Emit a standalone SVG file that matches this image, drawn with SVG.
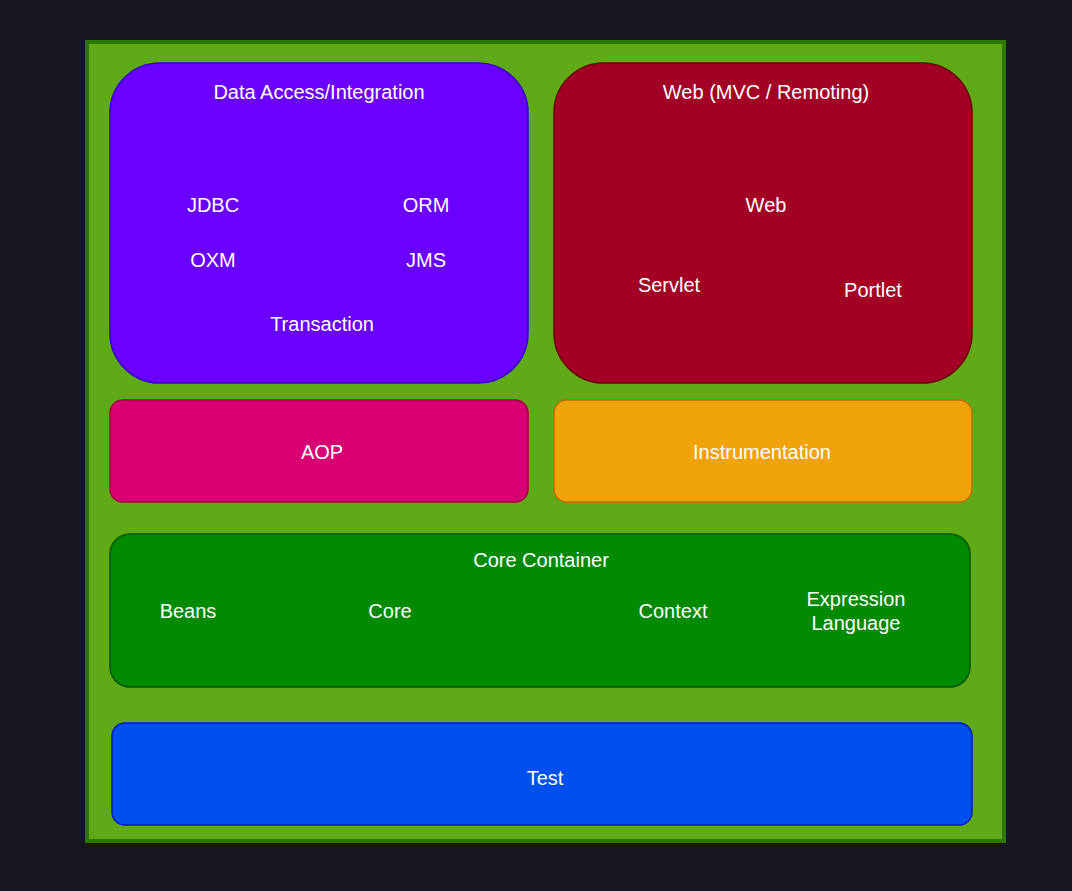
<svg xmlns="http://www.w3.org/2000/svg" width="1072" height="891" viewBox="0 0 1072 891">
<style>
text{font-family:"Liberation Sans",Arial,sans-serif;font-size:20px;fill:#ffffff;text-anchor:middle}
</style>
<rect x="0" y="0" width="1072" height="891" fill="#18161f"/>
<g id="frame"><rect x="87" y="42" width="917" height="799" fill="#60a917" stroke="#2d7600" stroke-width="4"/></g>
<g id="data-access">
<rect x="110" y="63" width="418" height="320" rx="50" ry="50" fill="#6a00ff" stroke="#3700cc" stroke-width="1.5"/>
<text x="319" y="99">Data Access/Integration</text>
<text x="213" y="212">JDBC</text>
<text x="426" y="212">ORM</text>
<text x="213" y="267">OXM</text>
<text x="426" y="267">JMS</text>
<text x="322" y="331">Transaction</text>
</g>
<g id="web">
<rect x="554" y="63" width="418" height="320" rx="50" ry="50" fill="#a20025" stroke="#6f0000" stroke-width="1.5"/>
<text x="766" y="99">Web (MVC / Remoting)</text>
<text x="766" y="212">Web</text>
<text x="669" y="292">Servlet</text>
<text x="873" y="297">Portlet</text>
</g>
<g id="aop">
<rect x="110" y="400" width="418" height="102" rx="13" ry="13" fill="#d80073" stroke="#a50040" stroke-width="1.5"/>
<text x="322" y="459">AOP</text>
</g>
<g id="instrumentation">
<rect x="554" y="400" width="418" height="102" rx="13" ry="13" fill="#f0a30a" stroke="#bd7000" stroke-width="1.5"/>
<text x="762" y="459">Instrumentation</text>
</g>
<g id="core-container">
<rect x="110" y="534" width="860" height="153" rx="20" ry="20" fill="#008a00" stroke="#005700" stroke-width="1.5"/>
<text x="541" y="567">Core Container</text>
<text x="188" y="618">Beans</text>
<text x="390" y="618">Core</text>
<text x="673" y="618">Context</text>
<text x="856" y="606">Expression</text>
<text x="856" y="630">Language</text>
</g>
<g id="test">
<rect x="112" y="723" width="860" height="102" rx="13" ry="13" fill="#0050ef" stroke="#001dbc" stroke-width="1.5"/>
<text x="545" y="785">Test</text>
</g>
<g id="connectors"></g>
</svg>
